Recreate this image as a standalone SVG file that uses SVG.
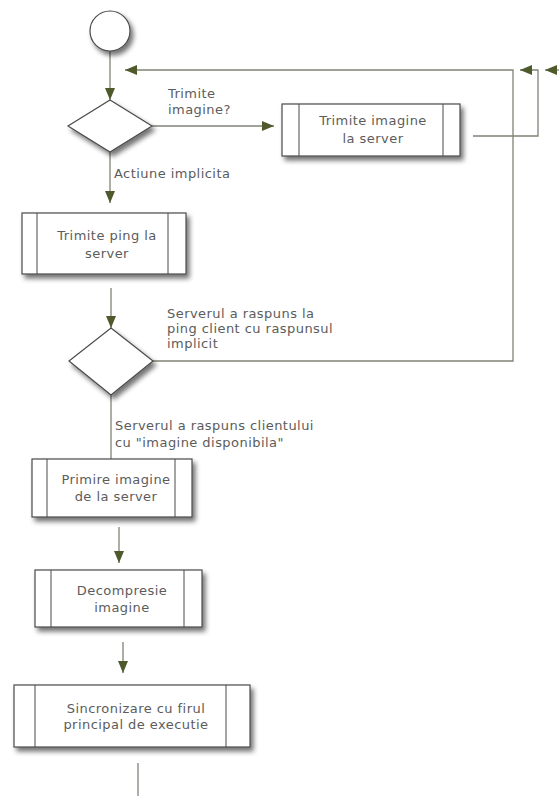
<svg xmlns="http://www.w3.org/2000/svg" width="559" height="796" viewBox="0 0 559 796">
<style>
.node{fill:#fff;stroke:#4a4a4a;stroke-width:1.2}
.inner{stroke:#4a4a4a;stroke-width:1}
.conn{fill:none;stroke:#808276;stroke-width:1.3}
.t{font-family:"DejaVu Sans",Verdana,sans-serif;font-size:13px;letter-spacing:0.45px;fill:#5c5c5c}
.c{text-anchor:middle}
</style>
<defs>
<filter id="sh" x="-20%" y="-20%" width="150%" height="160%">
<feGaussianBlur in="SourceAlpha" stdDeviation="2.5"/>
<feOffset dx="3" dy="4" result="b"/>
<feComponentTransfer><feFuncA type="linear" slope="0.55"/></feComponentTransfer>
<feMerge><feMergeNode/><feMergeNode in="SourceGraphic"/></feMerge>
</filter>
<marker id="ah" markerUnits="userSpaceOnUse" markerWidth="12" markerHeight="10" refX="12" refY="5" orient="auto">
<path d="M0,0 L12,5 L0,10 z" fill="#4e5a2c"/>
</marker>
</defs>
<g id="connectors">
<path class="conn" d="M110,51 V100" marker-end="url(#ah)"/>
<path class="conn" d="M152,126 H274" marker-end="url(#ah)"/>
<path class="conn" d="M110,152 V203" marker-end="url(#ah)"/>
<path class="conn" d="M111,288 V328" marker-end="url(#ah)"/>
<path class="conn" d="M153,361 H513 V70 H125" marker-end="url(#ah)"/>
<path class="conn" d="M473,136 H538 V70 H520" marker-end="url(#ah)"/>
<path class="conn" d="M559,70 H545" marker-end="url(#ah)"/>
<path class="conn" d="M111,395 V459"/>
<path class="conn" d="M119,527 V563" marker-end="url(#ah)"/>
<path class="conn" d="M123,642 V673" marker-end="url(#ah)"/>
<path class="conn" d="M138,763 V796"/>
<text class="t" x="168" y="98">Trimite</text>
<text class="t" x="168" y="114">imagine?</text>
<text class="t" x="114" y="178">Actiune implicita</text>
<text class="t" x="167" y="318">Serverul a raspuns la</text>
<text class="t" x="167" y="333">ping client cu raspunsul</text>
<text class="t" x="167" y="348">implicit</text>
<text class="t" x="115" y="430">Serverul a raspuns clientului</text>
<text class="t" x="115" y="447">cu "imagine disponibila"</text>
</g>
<g id="start">
<circle class="node" cx="110" cy="31" r="20" filter="url(#sh)"/>
</g>
<g id="decision1">
<polygon class="node" points="110,100 152,126 110,152 68,126" stroke="#808276" filter="url(#sh)"/>
</g>
<g id="box-send-image">
<rect class="node" x="282" y="104" width="178" height="52" filter="url(#sh)"/>
<line class="inner" x1="299" y1="104" x2="299" y2="156"/>
<line class="inner" x1="443" y1="104" x2="443" y2="156"/>
<text class="t c" x="373" y="125">Trimite imagine</text>
<text class="t c" x="373" y="143">la server</text>
</g>
<g id="box-ping">
<rect class="node" x="22" y="213" width="164" height="61" filter="url(#sh)"/>
<line class="inner" x1="37" y1="213" x2="37" y2="274"/>
<line class="inner" x1="168" y1="213" x2="168" y2="274"/>
<text class="t c" x="107" y="240">Trimite ping la</text>
<text class="t c" x="107" y="258">server</text>
</g>
<g id="decision2">
<polygon class="node" points="111,328 153,361 111,395 69,361" stroke="#808276" filter="url(#sh)"/>
</g>
<g id="box-receive">
<rect class="node" x="32" y="459" width="160" height="58" filter="url(#sh)"/>
<line class="inner" x1="47" y1="459" x2="47" y2="517"/>
<line class="inner" x1="175" y1="459" x2="175" y2="517"/>
<text class="t c" x="116" y="484">Primire imagine</text>
<text class="t c" x="116" y="501">de la server</text>
</g>
<g id="box-decompress">
<rect class="node" x="35" y="570" width="167" height="57" filter="url(#sh)"/>
<line class="inner" x1="51" y1="570" x2="51" y2="627"/>
<line class="inner" x1="184" y1="570" x2="184" y2="627"/>
<text class="t c" x="122" y="595">Decompresie</text>
<text class="t c" x="122" y="612">imagine</text>
</g>
<g id="box-sync">
<rect class="node" x="14" y="685" width="236" height="62" filter="url(#sh)"/>
<line class="inner" x1="35" y1="685" x2="35" y2="747"/>
<line class="inner" x1="226" y1="685" x2="226" y2="747"/>
<text class="t c" x="136" y="713">Sincronizare cu firul</text>
<text class="t c" x="136" y="729">principal de executie</text>
</g>
</svg>
